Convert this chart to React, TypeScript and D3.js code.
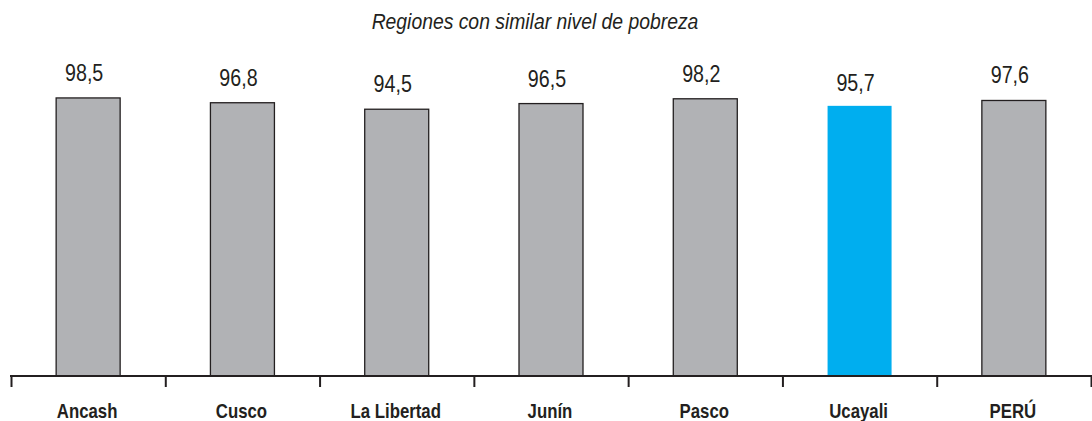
import React from "react";
import * as d3 from "d3";

const categories = ["Ancash", "Cusco", "La Libertad", "Junín", "Pasco", "Ucayali", "PERÚ"];
const values = [98.5, 96.8, 94.5, 96.5, 98.2, 95.7, 97.6];
const labels = ["98,5", "96,8", "94,5", "96,5", "98,2", "95,7", "97,6"];
const highlight = ["Ucayali"];
const title = "Regiones con similar nivel de pobreza";

const W = 1092;
const H = 421;
const baseY = 376;

export default function App() {
  const x = d3.scaleBand<string>().domain(categories).range([10, 1090]).padding(0);
  const y = d3.scaleLinear().domain([0, 100]).range([baseY, 93.7]);
  const bw = 64;
  const font = "'Liberation Sans', Arial, sans-serif";
  const ticks = [...categories.map((c) => x(c) as number), 1090];

  return (
    <svg
      width={W}
      height={H}
      style={{ position: "fixed", left: 0, top: 0, background: "#fff" }}
    >
      <text
        transform="translate(535,29) scale(0.9,1)"
        textAnchor="middle"
        fontFamily={font}
        fontStyle="italic"
        fontSize={21.5}
        fill="#231f20"
      >
        {title}
      </text>
      {categories.map((c, i) => {
        const cx = (x(c) as number) + x.bandwidth() / 2 + 1;
        const hl = highlight.includes(c);
        return (
          <g key={c}>
            <rect
              x={cx - bw / 2}
              y={y(values[i])}
              width={bw}
              height={baseY - y(values[i])}
              fill={hl ? "#00aeef" : "#b1b2b5"}
              stroke={hl ? "none" : "#231f20"}
              strokeWidth={1.3}
            />
            <text
              transform={`translate(${cx - 4},${y(values[i]) - (hl ? 15 : 17)}) scale(0.82,1)`}
              textAnchor="middle"
              fontFamily={font}
              fontSize={24}
              fill="#231f20"
            >
              {labels[i]}
            </text>
            <text
              transform={`translate(${cx - 1},418) scale(0.84,1)`}
              textAnchor="middle"
              fontFamily={font}
              fontWeight="bold"
              fontSize={20}
              fill="#231f20"
            >
              {c}
            </text>
          </g>
        );
      })}
      <line x1={10} x2={W} y1={baseY} y2={baseY} stroke="#231f20" strokeWidth={2} />
      {ticks.map((t, i) => (
        <line key={i} x1={t + 1.5} x2={t + 1.5} y1={baseY} y2={387} stroke="#231f20" strokeWidth={2} />
      ))}
    </svg>
  );
}
